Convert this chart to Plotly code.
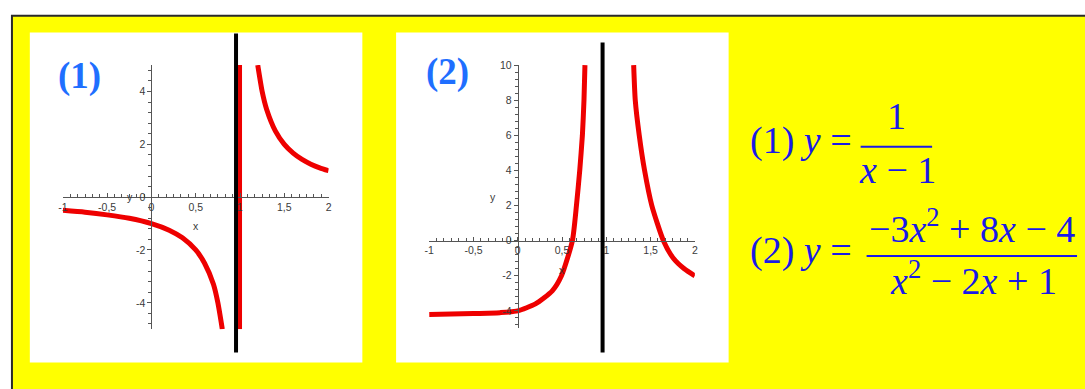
import plotly.graph_objects as go

W, H = 1085, 389

# ---- graph (1): y = 1/(x-1) ----
g1_left_x = [-1, -0.75, -0.5, -0.25, 0, 0.2, 0.35, 0.5, 0.6, 0.7, 0.75, 0.8]
g1_left_y = [-0.5, -0.57, -0.67, -0.8, -1.0, -1.25, -1.54, -2.0, -2.5, -3.3, -4.0, -5.0]
g1_right_x = [1.2, 1.25, 1.3, 1.4, 1.5, 1.6, 1.7, 1.8, 1.9, 2.0]
g1_right_y = [5.0, 4.0, 3.33, 2.5, 2.0, 1.67, 1.43, 1.25, 1.11, 1.0]
g1_jump_x = [1, 1]
g1_jump_y = [-5, 5]

# ---- graph (2): y = (-3x^2+8x-4)/(x^2-2x+1) ----
g2_left_x = [-1, -0.5, -0.2, 0, 0.2, 0.39, 0.494, 0.617, 0.663, 0.7, 0.73, 0.748, 0.759]
g2_left_y = [-4.2, -4.15, -4.1, -4.0, -3.6, -2.86, -2.0, 0.0, 2.0, 4.0, 6.0, 8.0, 10.0]
g2_right_x = [1.309, 1.327, 1.372, 1.432, 1.514, 1.645, 1.757, 1.88, 2.0]
g2_right_y = [10.0, 8.0, 6.0, 4.0, 2.0, 0.0, -1.0, -1.6, -2.0]

# asymptote markers drawn over each graph
asym_x = [0.955, 0.958]

# tick labels
x_ticks = [-1, -0.5, 0, 0.5, 1, 1.5, 2]
x_tick_text = ["-1", "-0,5", "0", "0,5", "1", "1,5", "2"]
y1_ticks = [-4, -2, 0, 2, 4]
y1_tick_text = ["-4", "-2", "0", "2", "4"]
y2_ticks = [-4, -2, 0, 2, 4, 6, 8, 10]
y2_tick_text = ["-4", "-2", "0", "2", "4", "6", "8", "10"]


def px(x):
    return x / W


def py(y):
    return 1 - y / H


RED = "#ee0000"
BLUE = "#1a1ae6"
LABEL_BLUE = "#1f6fff"
AX = "#555555"
SERIF = "Liberation Serif, Times New Roman, serif"
SANS = "Liberation Sans, Arial, sans-serif"

fig = go.Figure()
line = dict(color=RED, width=5, shape="spline", smoothing=0.6)
fig.add_trace(go.Scatter(x=g1_left_x, y=g1_left_y, mode="lines", line=line, xaxis="x", yaxis="y"))
fig.add_trace(go.Scatter(x=g1_right_x, y=g1_right_y, mode="lines", line=line, xaxis="x", yaxis="y"))
fig.add_trace(go.Scatter(x=g1_jump_x, y=g1_jump_y, mode="lines", line=dict(color=RED, width=4), xaxis="x", yaxis="y"))
fig.add_trace(go.Scatter(x=g2_left_x, y=g2_left_y, mode="lines", line=line, xaxis="x2", yaxis="y2"))
fig.add_trace(go.Scatter(x=g2_right_x, y=g2_right_y, mode="lines", line=line, xaxis="x2", yaxis="y2"))

# plot domains (pixel extents of the axes)
d1x = [px(58.3), px(326)]
d1y = [py(328.3), py(60)]
d2x = [px(427.3), px(695)]
d2y = [py(327.5), py(60)]
r_x = [-1, 2]
r1y = [-5, 5]
r2y = [-5, 10]


def zero_pos(dom, rng):
    return dom[0] + (0 - rng[0]) / (rng[1] - rng[0]) * (dom[1] - dom[0])


tickfont = dict(family=SANS, size=10.5, color="#3a3a3a")


def xaxis(dom, pos):
    return dict(domain=dom, range=r_x, anchor="free", position=pos, side="bottom",
                showgrid=False, zeroline=False, showline=True, linecolor=AX, linewidth=1,
                ticks="inside", ticklen=4, tickcolor=AX, tickwidth=1,
                tickmode="array", tickvals=x_ticks, ticktext=x_tick_text, tickfont=tickfont,
                minor=dict(tickmode="linear", tick0=0, dtick=1 / 12, ticks="inside",
                           ticklen=3, tickcolor=AX, tickwidth=1),
                fixedrange=True)


def yaxis(dom, rng, pos, vals, text):
    return dict(domain=dom, range=rng, anchor="free", position=pos, side="left",
                showgrid=False, zeroline=False, showline=True, linecolor=AX, linewidth=1,
                ticks="outside", ticklen=4, tickcolor=AX, tickwidth=1,
                tickmode="array", tickvals=vals, ticktext=text, tickfont=tickfont,
                minor=dict(tickmode="linear", tick0=0, dtick=0.4, ticks="outside",
                           ticklen=3, tickcolor=AX, tickwidth=1),
                fixedrange=True)


shapes = [
    # yellow board with dark frame
    dict(type="rect", xref="paper", yref="paper", x0=px(7), x1=1.02, y0=-0.02, y1=py(10),
         fillcolor="#ffff00", line=dict(color="#2a2a2a", width=2), layer="below"),
    # white panels
    dict(type="rect", xref="paper", yref="paper", x0=px(25), x1=px(360), y0=py(362), y1=py(27),
         fillcolor="white", line=dict(width=0), layer="below"),
    dict(type="rect", xref="paper", yref="paper", x0=px(394), x1=px(729), y0=py(362), y1=py(27),
         fillcolor="white", line=dict(width=0), layer="below"),
    # asymptote bars
    dict(type="line", xref="x", yref="paper", x0=asym_x[0], x1=asym_x[0], y0=py(352), y1=py(28),
         line=dict(color="black", width=4)),
    dict(type="line", xref="x2", yref="paper", x0=asym_x[1], x1=asym_x[1], y0=py(352), y1=py(37),
         line=dict(color="black", width=4)),
    # fraction bars
    dict(type="line", xref="paper", yref="paper", x0=px(862), x1=px(934), y0=py(143), y1=py(143),
         line=dict(color=BLUE, width=2)),
    dict(type="line", xref="paper", yref="paper", x0=px(868), x1=px(1080), y0=py(254), y1=py(254),
         line=dict(color=BLUE, width=2)),
]

small = dict(family=SANS, size=10.5, color="#3a3a3a")
formula = dict(family=SERIF, size=38, color=BLUE)


def pap(x, y, text, font, xanchor="center"):
    return dict(xref="paper", yref="paper", x=px(x), y=py(y), text=text, font=font,
                showarrow=False, xanchor=xanchor, yanchor="middle")


annotations = [
    # axis titles
    dict(xref="x", yref="y", x=0.5, y=0, yshift=-29, text="x", font=small, showarrow=False),
    dict(xref="x", yref="y", x=-0.24, y=0, text="y", font=small, showarrow=False),
    dict(xref="x2", yref="y2", x=0.5, y=0, yshift=-29, text="x", font=small, showarrow=False),
    dict(xref="x2", yref="y2", x=-0.28, y=2.5, text="y", font=small, showarrow=False),
    # panel numbers
    pap(75, 71, "<b>(1)</b>", dict(family=SERIF, size=37, color=LABEL_BLUE)),
    pap(446, 67, "<b>(2)</b>", dict(family=SERIF, size=37, color=LABEL_BLUE)),
    # formula (1)
    pap(749, 137, "(1) <i>y</i> =", formula, xanchor="left"),
    pap(898, 112, "1", formula),
    pap(899, 167, "<i>x</i> − 1", formula),
    # formula (2)
    pap(749, 248, "(2) <i>y</i> =", formula, xanchor="left"),
    pap(974, 223, "−3<i>x</i><sup>2</sup> + 8<i>x</i> − 4", formula),
    pap(976, 276, "<i>x</i><sup>2</sup> − 2<i>x</i> + 1", formula),
]

fig.update_layout(
    width=W, height=H,
    margin=dict(l=0, r=0, t=0, b=0),
    paper_bgcolor="white",
    plot_bgcolor="rgba(0,0,0,0)",
    showlegend=False,
    xaxis=xaxis(d1x, zero_pos(d1y, r1y)),
    yaxis=yaxis(d1y, r1y, zero_pos(d1x, r_x), y1_ticks, y1_tick_text),
    xaxis2=xaxis(d2x, zero_pos(d2y, r2y)),
    yaxis2=yaxis(d2y, r2y, zero_pos(d2x, r_x), y2_ticks, y2_tick_text),
    shapes=shapes,
    annotations=annotations,
)

fig.write_html("out.html")
